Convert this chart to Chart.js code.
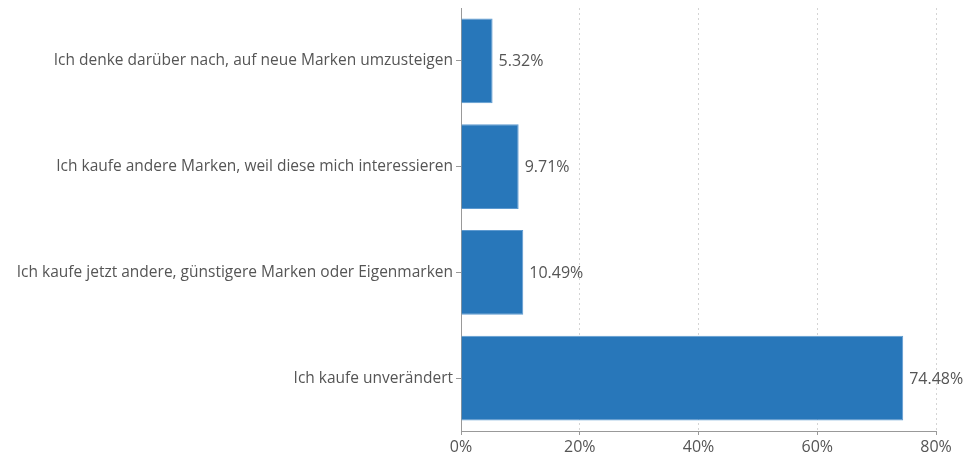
<!DOCTYPE html>
<html>
<head>
<meta charset="utf-8">
<script src="https://cdn.jsdelivr.net/npm/chart.js@4"></script>
<style>
  html, body { margin: 0; padding: 0; background: #fff; }
  #wrap { width: 967px; height: 454px; }
</style>
</head>
<body>
<div id="wrap"><canvas id="chart"></canvas></div>
<script>
// Data
const categories = [
    "Ich denke darüber nach, auf neue Marken umzusteigen",
    "Ich kaufe andere Marken, weil diese mich interessieren",
    "Ich kaufe jetzt andere, günstigere Marken oder Eigenmarken",
    "Ich kaufe unverändert"
];
const shares = [5.32, 9.71, 10.49, 74.48];
const xTicks = [0, 20, 40, 60, 80];

const textColor = "#555555";
const fontFamily = "'Open Sans', sans-serif";

// draws the value next to each bar
const valueLabels = {
    id: "valueLabels",
    afterDatasetsDraw(chart) {
        const ctx = chart.ctx;
        const meta = chart.getDatasetMeta(0);
        ctx.save();
        ctx.font = "16px " + fontFamily;
        ctx.fillStyle = textColor;
        ctx.textAlign = "left";
        ctx.textBaseline = "middle";
        meta.data.forEach((bar, i) => {
            ctx.fillText(shares[i].toFixed(2) + "%", bar.x + 6, bar.y + 1);
        });
        ctx.restore();
    }
};

const ctx = document.getElementById("chart");
new Chart(ctx, {
    type: "bar",
    data: {
        labels: categories,
        datasets: [{
            data: shares,
            backgroundColor: "#2877BA",
            borderColor: "#5e9ad0",
            borderWidth: 1,
            barPercentage: 1,
            categoryPercentage: 0.8
        }]
    },
    options: {
        indexAxis: "y",
        responsive: true,
        maintainAspectRatio: false,
        animation: false,
        layout: { padding: { top: 8, left: 0, right: 0, bottom: 0 } },
        plugins: {
            legend: { display: false },
            tooltip: { enabled: false }
        },
        scales: {
            x: {
                min: 0,
                max: 80,
                afterBuildTicks: (scale) => {
                    scale.ticks = xTicks.map(v => ({ value: v }));
                },
                afterFit: (scale) => { scale.height = 23; scale.paddingRight = 31; },
                ticks: {
                    color: textColor,
                    font: { family: fontFamily, size: 16 },
                    padding: 3,
                    maxRotation: 0,
                    callback: (v) => v + "%"
                },
                grid: {
                    color: "#d4d4d4",
                    tickColor: "#999999",
                    tickLength: 4,
                    tickWidth: 1
                },
                border: { color: "#999999", width: 1, dash: [2, 3] }
            },
            y: {
                afterFit: (scale) => {
                    scale.width = 461;
                    scale.paddingTop = 0;
                    scale.paddingBottom = 0;
                },
                ticks: {
                    color: textColor,
                    font: { family: fontFamily, size: 15.5 },
                    padding: 3
                },
                grid: {
                    offset: false,
                    drawOnChartArea: false,
                    tickColor: "#999999",
                    tickLength: 5
                },
                border: { color: "#999999", width: 1 }
            }
        }
    },
    plugins: [valueLabels]
});
</script>
</body>
</html>
